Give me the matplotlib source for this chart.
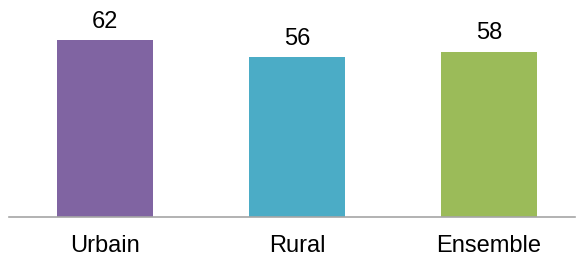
import matplotlib.pyplot as plt

categories = ['Urbain', 'Rural', 'Ensemble']
values = [62, 56, 58]
colors = ['#8064A2', '#4BACC6', '#9BBB59']

plt.rcParams['font.family'] = ['Liberation Sans', 'DejaVu Sans']

fig = plt.figure(figsize=(5.76, 2.57), dpi=100)
ax = fig.add_axes([9 / 576, 1 - 217 / 257, 566 / 576, 217 / 257])

x = range(len(categories))
bars = ax.bar(x, values, width=0.5, color=colors)
for b, v in zip(bars, values):
    ax.text(b.get_x() + b.get_width() / 2, v + 2.6, str(v),
            ha='center', va='bottom', fontsize=17)

ax.set_xlim(-0.5, 2.448)
ax.set_ylim(0, 217 / 2.85)
ax.set_xticks(list(x))
ax.set_xticklabels(categories, fontsize=17)
ax.tick_params(axis='x', length=0, pad=13)
ax.set_yticks([])
for s in ['top', 'right', 'left']:
    ax.spines[s].set_visible(False)
ax.spines['bottom'].set_color('#A6A6A6')
ax.spines['bottom'].set_linewidth(1.2)

fig.savefig('out.png', dpi=100)
